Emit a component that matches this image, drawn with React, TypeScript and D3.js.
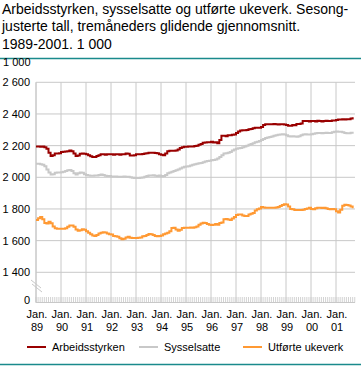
import React from "react";
import * as d3 from "d3";

const titleLines = [
  "Arbeidsstyrken, sysselsatte og utførte ukeverk. Sesong-",
  "justerte tall, tremåneders glidende gjennomsnitt.",
  "1989-2001. 1 000",
];
const unitLabel = "1 000";
const yTicks = [1400, 1600, 1800, 2000, 2200, 2400, 2600];
const yearLabels = ["89", "90", "91", "92", "93", "94", "95", "96", "97", "98", "99", "00", "01"];
const seriesNames = ["Arbeidsstyrken", "Sysselsatte", "Utførte ukeverk"];
const seriesColors = ["#990000", "#c8c8c8", "#ff9933"];

// Monthly values, Jan 1989 - Sep 2001
const arbeidsstyrken = [
  2195, 2195, 2193, 2195, 2190, 2180, 2155, 2135, 2140, 2150, 2150, 2152,
  2160, 2162, 2163, 2165, 2170, 2165, 2150, 2135, 2138, 2148, 2150, 2148,
  2145, 2140, 2133, 2128, 2128, 2135, 2140, 2145, 2145, 2143, 2145, 2145,
  2145, 2143, 2145, 2145, 2143, 2145, 2145, 2150, 2148, 2138, 2138, 2140,
  2145, 2145, 2145, 2147, 2150, 2152, 2155, 2155, 2155, 2153, 2152, 2145,
  2142, 2140, 2150, 2165, 2168, 2168, 2168, 2170, 2175, 2185, 2190, 2193,
  2193, 2195, 2195, 2195, 2197, 2200, 2205, 2210, 2218, 2220, 2222, 2222,
  2225, 2220, 2222, 2215, 2235, 2263, 2263, 2260, 2265, 2265, 2268, 2270,
  2280, 2290, 2295, 2297, 2297, 2298, 2303, 2305, 2310, 2313, 2313, 2313,
  2318, 2330, 2335, 2335, 2335, 2335, 2337, 2335, 2333, 2335, 2335, 2333,
  2330, 2326, 2326, 2330, 2328, 2337, 2337, 2340, 2356, 2355, 2356, 2352,
  2355, 2356, 2352, 2357, 2355, 2352, 2356, 2357, 2355, 2356, 2358, 2358,
  2362, 2365, 2365, 2366, 2365, 2366, 2367, 2372, 2380,
];
const sysselsatte = [
  2085, 2085, 2083, 2080, 2070, 2050, 2030, 2017, 2020, 2028, 2030, 2030,
  2032, 2035, 2040, 2045, 2046, 2040, 2025, 2017, 2025, 2030, 2028, 2020,
  2015, 2012, 2010, 2010, 2011, 2012, 2015, 2017, 2015, 2010, 2008, 2008,
  2005, 2005, 2005, 2003, 2003, 2004, 2005, 2004, 2003, 2000, 1997, 1995,
  1995, 1995, 1997, 1998, 2003, 2008, 2012, 2012, 2013, 2010, 2008, 2012,
  2007, 2008, 2015, 2025, 2030, 2035, 2040, 2045, 2050, 2055, 2062, 2066,
  2068, 2070, 2075, 2080, 2083, 2086, 2088, 2090, 2095, 2100, 2103, 2105,
  2108, 2110, 2112, 2118, 2128, 2140, 2150, 2152, 2155, 2160, 2170, 2175,
  2180, 2183, 2185, 2190, 2195, 2200, 2205, 2210, 2215, 2222, 2225, 2230,
  2235, 2242, 2248, 2252, 2255, 2258, 2262, 2265, 2268, 2270, 2272, 2270,
  2265, 2260, 2258, 2260, 2258, 2256, 2260, 2265, 2270, 2272, 2270, 2270,
  2272, 2275, 2278, 2280, 2280, 2278, 2280, 2282, 2280, 2280, 2285, 2288,
  2290, 2288, 2288, 2285, 2280, 2278, 2278, 2282, 2288,
];
const utforteUkeverk = [
  1730, 1742, 1750, 1735, 1712, 1708, 1720, 1710, 1690, 1678, 1675, 1675,
  1675, 1675, 1678, 1688, 1695, 1695, 1688, 1670, 1663, 1665, 1672, 1668,
  1660, 1650, 1640, 1632, 1630, 1635, 1645, 1650, 1653, 1652, 1645, 1640,
  1638, 1630, 1628, 1625, 1615, 1608, 1612, 1620, 1625, 1618, 1617, 1617,
  1617, 1618, 1620, 1628, 1630, 1635, 1642, 1640, 1635, 1630, 1628, 1629,
  1632, 1640, 1645, 1650, 1660, 1680, 1682, 1670, 1662, 1668, 1680, 1682,
  1682, 1682, 1683, 1682, 1685, 1690, 1700, 1708, 1713, 1712, 1705, 1700,
  1698, 1700, 1705, 1700, 1712, 1715, 1735, 1737, 1733, 1730, 1740, 1750,
  1762, 1765, 1765, 1758, 1755, 1755, 1765, 1770, 1775, 1790, 1798, 1803,
  1812, 1810, 1808, 1808, 1807, 1808, 1808, 1810, 1812, 1818, 1825, 1830,
  1828, 1815, 1800, 1798, 1793, 1793, 1793, 1793, 1795, 1800, 1803, 1808,
  1800, 1798, 1805, 1808, 1808, 1806, 1808, 1805, 1800, 1798, 1800, 1798,
  1785, 1778, 1795, 1820, 1826, 1825, 1822, 1815, 1805,
];
const allSeries = [arbeidsstyrken, sysselsatte, utforteUkeverk];

export default function App() {
  const W = 361, H = 366;
  const left = 36, right = 354.75;
  const axisY = 302.5;
  const x = d3.scaleLinear().domain([0, 153]).range([left, right]);
  const y = d3.scaleLinear().domain([1400, 2600]).range([272.3, 82.3]);
  const line = d3.line<number>().x((_, i) => x(i)).y((d) => y(d)).curve(d3.curveStepAfter);
  const font = "'Liberation Sans', Arial, sans-serif";
  const grid = "#c8c8c8";
  const months = d3.range(0, 154);
  const legendX = [[27, 52], [139, 164], [243, 268]];

  return (
    <svg width={W} height={H} style={{ position: "absolute", left: 0, top: 0 }} fontFamily={font}>
      <rect width={W} height={H} fill="#fff" />
      {titleLines.map((t, i) => (
        <text key={i} x={2} y={13.5 + i * 17.5} fontSize={14} fill="#000">{t}</text>
      ))}
      <line x1={0} x2={W} y1={58.5} y2={58.5} stroke="#1a8a8c" strokeWidth={1.5} />
      <line x1={0} x2={W} y1={364.5} y2={364.5} stroke="#1a8a8c" strokeWidth={1.5} />
      <text x={3} y={66} fontSize={11}>{unitLabel}</text>
      {yTicks.map((v) => (
        <g key={v}>
          <line x1={left} x2={355} y1={y(v)} y2={y(v)} stroke={grid} strokeWidth={1} />
          <text x={30} y={y(v) + 4} fontSize={11} textAnchor="end">{d3.format(",")(v).replace(",", " ")}</text>
        </g>
      ))}
      <text x={30} y={axisY + 1.5} fontSize={11} textAnchor="end">0</text>
      {yearLabels.map((lab, i) => (
        <g key={lab}>
          <line x1={x(i * 12)} x2={x(i * 12)} y1={y(2600)} y2={axisY} stroke={grid} strokeWidth={1} />
          <text x={x(i * 12) + 1} y={318} fontSize={11} textAnchor="middle">Jan.</text>
          <text x={x(i * 12) + 1} y={331} fontSize={11} textAnchor="middle">{lab}</text>
        </g>
      ))}
      <line x1={left} x2={left} y1={y(2600)} y2={axisY} stroke={grid} strokeWidth={1} />
      {months.map((m) => (
        <line key={m} x1={x(m)} x2={x(m)} y1={297} y2={axisY} stroke={grid} strokeWidth={0.8} />
      ))}
      <line x1={left} x2={355} y1={axisY} y2={axisY} stroke={grid} strokeWidth={1} />
      <line x1={31} x2={41} y1={280} y2={288} stroke={grid} strokeWidth={1} />
      <line x1={32} x2={42} y1={284} y2={292} stroke={grid} strokeWidth={1} />
      {allSeries.map((s, i) => (
        <path key={i} d={line(s) || ""} fill="none" stroke={seriesColors[i]} strokeWidth={2} />
      ))}
      {seriesNames.map((n, i) => (
        <g key={n}>
          <line x1={legendX[i][0]} x2={legendX[i][0] + 19} y1={347} y2={347} stroke={seriesColors[i]} strokeWidth={2} />
          <text x={legendX[i][1]} y={351} fontSize={11}>{n}</text>
        </g>
      ))}
    </svg>
  );
}
